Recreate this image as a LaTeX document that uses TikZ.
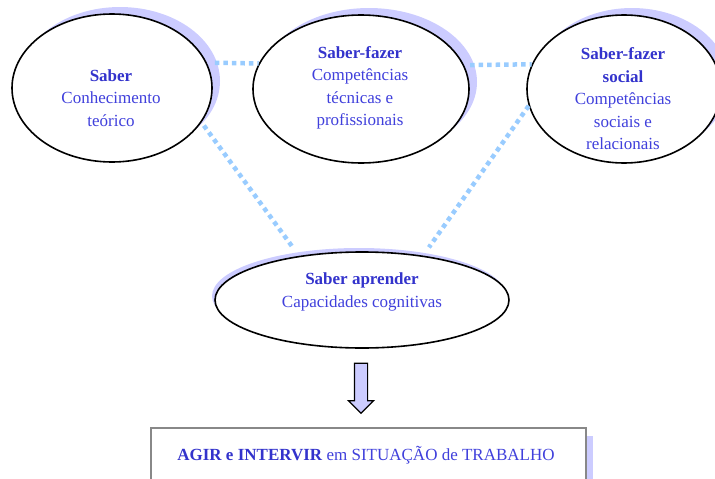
\documentclass[tikz,border=0pt]{standalone}
\usepackage{fontspec}
\setmainfont{Liberation Serif}
\usetikzlibrary{shapes.geometric, shapes.arrows, shadows, positioning}

\definecolor{txtblue}{RGB}{64,64,220}
\definecolor{headblue}{RGB}{51,51,204}
\definecolor{shadelav}{RGB}{204,204,255}
\definecolor{dotblue}{RGB}{153,204,255}
\definecolor{boxgray}{RGB}{136,136,136}

\newcommand{\head}[1]{\textcolor{headblue}{\textbf{#1}}}

\begin{document}
\begin{tikzpicture}[x=1pt, y=-1pt,
  skill/.style={ellipse, draw=black, line width=1.6pt, fill=white, inner sep=0pt},
  skilltxt/.style={align=center, text=txtblue, inner sep=0pt, font=\fontsize{17}{22.5}\selectfont},
  link/.style={dotblue, line width=4.5pt, dash pattern=on 4.5pt off 4pt}]
\useasboundingbox (0,0) rectangle (715,479);
\clip (0,0) rectangle (715,479);

% the three top ellipses
\node[skill, minimum width=200, minimum height=148,
  drop shadow={shadow xshift=8pt, shadow yshift=7pt, fill=shadelav, opacity=1}] (saber) at (112,88) {};
\node[skill, minimum width=216, minimum height=148,
  drop shadow={shadow xshift=8pt, shadow yshift=7pt, fill=shadelav, opacity=1}] (fazer) at (361,89) {};
\node[skill, minimum width=194, minimum height=148,
  drop shadow={shadow xshift=8pt, shadow yshift=7pt, fill=shadelav, opacity=1}] (social) at (624,89) {};

% bottom ellipse
\node[skill, minimum width=294, minimum height=96,
  drop shadow={shadow xshift=-3pt, shadow yshift=4pt, fill=shadelav, opacity=1}] (aprender) at (362,300) {};

% texts inside
\node[skilltxt] (sabertxt) at (111,98) {\head{Saber}\\Conhecimento\\teórico};
\node[skilltxt] (fazertxt) at (360,88) {\head{Saber-fazer}\\Competências\\técnicas e\\profissionais};
\node[skilltxt] (socialtxt) at (623,99) {\head{Saber-fazer}\\\head{social}\\Competências\\sociais e\\relacionais};
\node[skilltxt] (aprendertxt) at (362,292) {\head{Saber aprender}\\Capacidades cognitivas};

% dotted links
\draw[link, shorten <=8pt] (saber.15) -- (fazer.166);
\draw[link, shorten <=6pt] (fazer.13) -- (social.165);
\draw[link, shorten <=4pt, shorten >=10pt] (saber.-21) -- (aprender.145);
\draw[link, shorten >=10pt] (social.190) -- (aprender.36);

% arrow down
\node[single arrow, draw=black, line width=1.2pt, fill=shadelav, shape border rotate=270,
  minimum height=50, minimum width=24, single arrow head extend=6pt,
  single arrow head indent=0pt, inner sep=6pt] (down) at (361,385) {};

% result box
\node[rectangle, draw=boxgray, line width=1.5pt, fill=white, minimum width=435, minimum height=60,
  drop shadow={shadow xshift=7pt, shadow yshift=-8pt, fill=shadelav, opacity=1}] (agir) at (368.5,458) {};
\node[skilltxt] (agirtxt) at (366,455) {\head{AGIR e INTERVIR} em SITUAÇÃO de TRABALHO};
\end{tikzpicture}
\end{document}
